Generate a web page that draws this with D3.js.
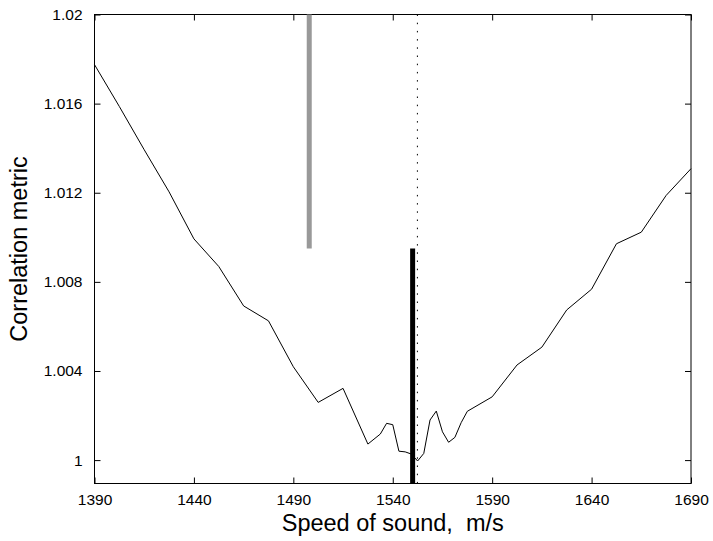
<!DOCTYPE html>
<html>
<head>
<meta charset="utf-8">
<script src="https://cdn.jsdelivr.net/npm/d3@7"></script>
<style>
  body { margin: 0; background: #fff; }
  text { font-family: "Liberation Sans", Arial, sans-serif; fill: #000; }
  .tick text { font-size: 15.5px; }
  .title { font-size: 23.5px; }
</style>
</head>
<body>
<div id="speed-chart"></div>
<script>
// data
const speed = [ 1390, 1402.5, 1415, 1427.5, 1440, 1452.5, 1465, 1477.5, 1490, 1502.5,
  1515, 1527.5, 1533.75, 1536.9, 1540, 1543.1, 1546.25, 1549.4, 1552.5, 1555.6,
  1558.75, 1561.9, 1565, 1568.1, 1571.25, 1574.4, 1577.5, 1590, 1602.5, 1615,
  1627.5, 1640, 1652.5, 1665, 1677.5, 1690 ];
const corr = [ 1.01775, 1.01587, 1.01393, 1.01204, 1.00993, 1.00869, 1.00692, 1.00625, 1.00419, 1.00259,
  1.00322, 1.00072, 1.00117, 1.00165, 1.00159, 1.0004, 1.00037, 1.00027, 0.99996, 1.0003,
  1.0018, 1.0022, 1.00127, 1.0008, 1.00102, 1.00168, 1.00219, 1.00284, 1.00427, 1.00507,
  1.00674, 1.00767, 1.00971, 1.01023, 1.01188, 1.01308 ];

const xTicks = [ 1390, 1440, 1490, 1540, 1590, 1640, 1690 ];
const yTicks = [ 1, 1.004, 1.008, 1.012, 1.016, 1.02 ];
const xDomain = [ 1390, 1690 ];
const yDomain = [ 0.99895, 1.02 ];

// vertical markers: grey (upper half), black (lower half), dotted (full)
const greyMark = { x: 1498, y0: 1.0095, y1: 1.02 };
const blackMark = { x: 1550, y0: 0.99895, y1: 1.0095 };
const dottedMark = { x: 1552.4 };

function drawChart() {
  // Step 1: Set up our chart
  //=========================
  let svgWidth = 713;
  let svgHeight = 541;

  let margin = {
    top: 14.5,
    right: 22,
    left: 94.5,
    bottom: 57.5,
  };

  let width = svgWidth - margin.left - margin.right;
  let height = svgHeight - margin.top - margin.bottom;

  let svg = d3
    .select( "#speed-chart" )
    .append( "svg" )
    .attr( "width", svgWidth )
    .attr( "height", svgHeight );

  let chartGroup = svg.append( "g" )
    .attr( "transform", `translate(${margin.left}, ${margin.top})` );

  // Step 2: Create Scales
  //=========================
  let x = d3.scaleLinear()
    .domain( xDomain )
    .range( [ 0, width ] );

  let y = d3.scaleLinear()
    .domain( yDomain )
    .range( [ height, 0 ] );

  // Step 3: Axes, ticks on all four sides pointing inward
  //=========================
  let fmt = d => d3.format( "" )( +d.toFixed( 3 ) );

  chartGroup.append( "g" )
    .attr( "transform", `translate(0, ${height})` )
    .call( d3.axisBottom( x ).tickValues( xTicks ).tickSizeInner( -6 ).tickSizeOuter( 0 ).tickPadding( 10 ).tickFormat( fmt ) );

  chartGroup.append( "g" )
    .call( d3.axisTop( x ).tickValues( xTicks ).tickSizeInner( -6 ).tickSizeOuter( 0 ).tickFormat( "" ) );

  chartGroup.append( "g" )
    .call( d3.axisLeft( y ).tickValues( yTicks ).tickSizeInner( -6 ).tickSizeOuter( 0 ).tickPadding( 12 ).tickFormat( fmt ) );

  chartGroup.append( "g" )
    .attr( "transform", `translate(${width}, 0)` )
    .call( d3.axisRight( y ).tickValues( yTicks ).tickSizeInner( -6 ).tickSizeOuter( 0 ).tickFormat( "" ) );

  chartGroup.selectAll( ".domain" ).remove();
  chartGroup.selectAll( ".tick line" ).attr( "stroke", "#000" );
  chartGroup.selectAll( ".tick text" ).attr( "fill", "#000" );

  // box
  chartGroup.append( "rect" )
    .attr( "width", width )
    .attr( "height", height )
    .attr( "fill", "none" )
    .attr( "stroke", "#000" )
    .attr( "stroke-width", 1 );

  // Step 4: Curve
  //=========================
  let line = d3.line()
    .x( ( d, i ) => x( speed[ i ] ) )
    .y( d => y( d ) );

  chartGroup.append( "path" )
    .attr( "d", line( corr ) )
    .attr( "fill", "none" )
    .attr( "stroke", "#000" )
    .attr( "stroke-width", 1 );

  // Step 5: Vertical markers
  //=========================
  chartGroup.append( "line" )
    .attr( "x1", x( dottedMark.x ) ).attr( "x2", x( dottedMark.x ) )
    .attr( "y1", y( yDomain[ 1 ] ) ).attr( "y2", y( yDomain[ 0 ] ) )
    .attr( "stroke", "#000" )
    .attr( "stroke-width", 1 )
    .attr( "stroke-dasharray", "1.5,6.7" );

  chartGroup.append( "line" )
    .attr( "x1", x( greyMark.x ) ).attr( "x2", x( greyMark.x ) )
    .attr( "y1", y( greyMark.y1 ) ).attr( "y2", y( greyMark.y0 ) )
    .attr( "stroke", "#999" )
    .attr( "stroke-width", 5 );

  chartGroup.append( "line" )
    .attr( "x1", x( blackMark.x ) ).attr( "x2", x( blackMark.x ) )
    .attr( "y1", y( blackMark.y1 ) ).attr( "y2", y( blackMark.y0 ) )
    .attr( "stroke", "#000" )
    .attr( "stroke-width", 5 );

  // Step 6: Labels
  //=========================
  chartGroup.append( "text" )
    .attr( "transform", `translate(${width / 2}, ${height + 47})` )
    .attr( "text-anchor", "middle" )
    .style( "white-space", "pre" )
    .text( "Speed of sound,  m/s" )
    .classed( "title", true );

  chartGroup.append( "text" )
    .attr( "transform", `translate(${-68}, ${height / 2}) rotate(-90)` )
    .attr( "text-anchor", "middle" )
    .text( "Correlation metric" )
    .classed( "title", true );
}

drawChart();
</script>
</body>
</html>
